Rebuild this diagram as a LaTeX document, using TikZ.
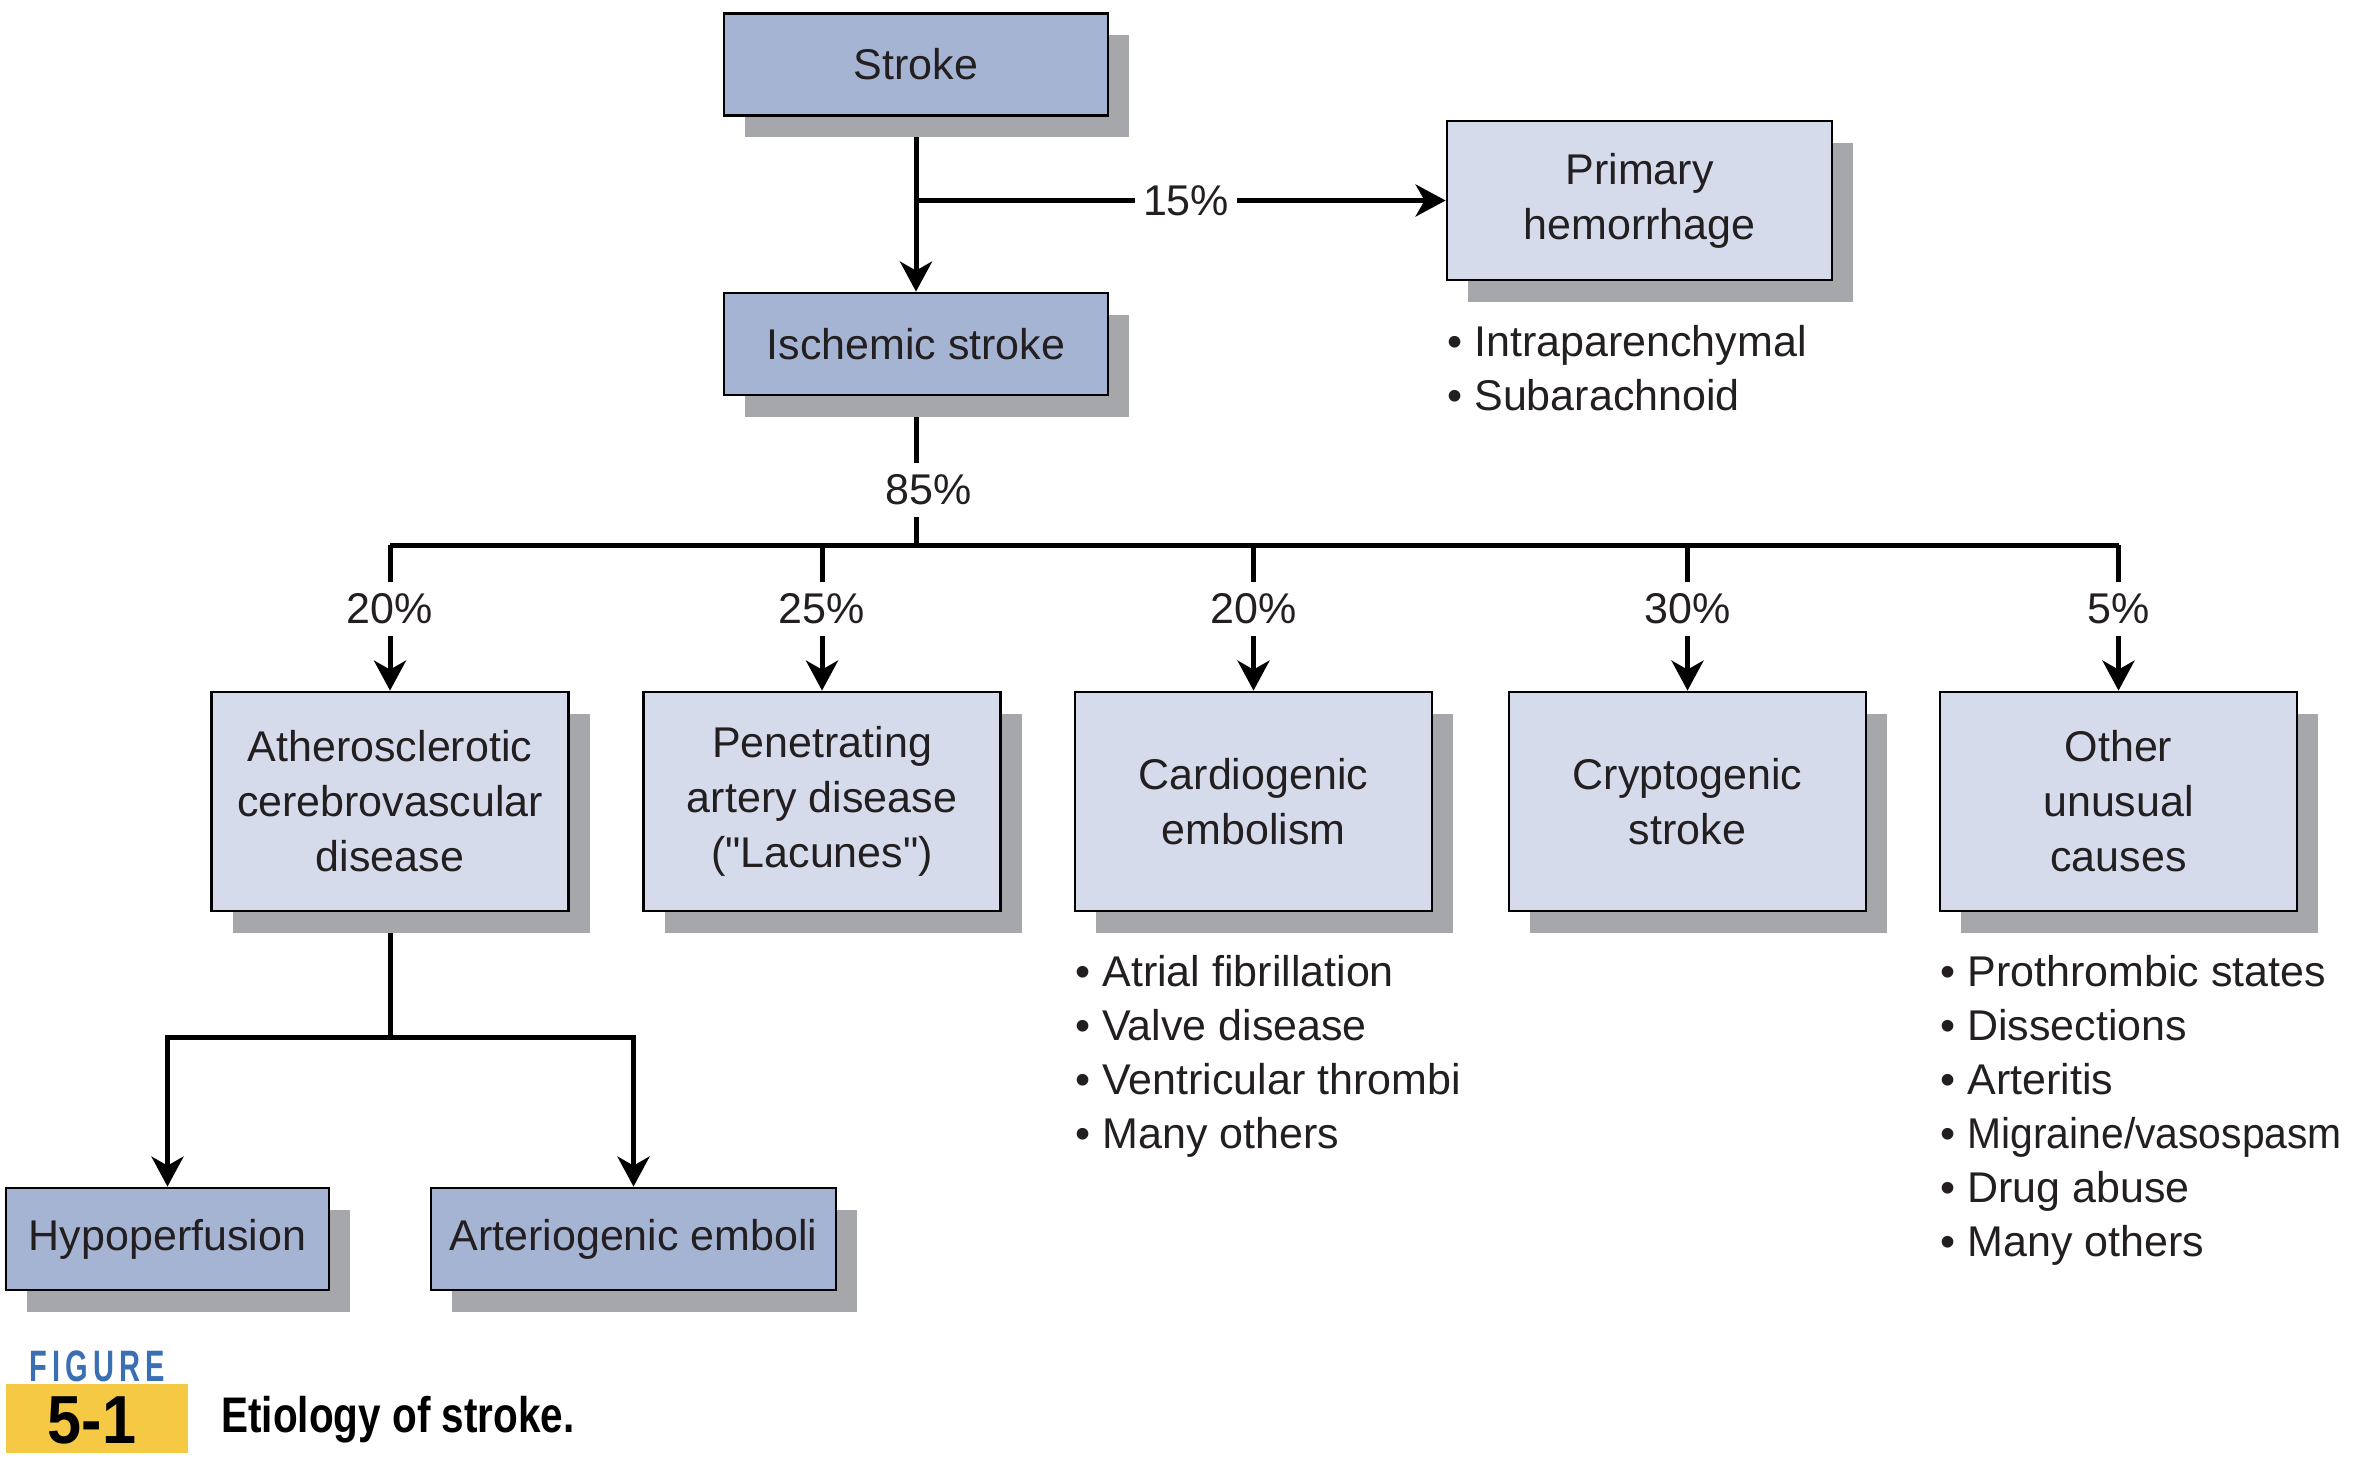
\documentclass[tikz,border=0pt]{standalone}
\usepackage{fontspec}
\setmainfont{Liberation Sans}
\usepackage{graphicx}
\usetikzlibrary{arrows.meta,backgrounds,shadows}
\definecolor{dkbox}{HTML}{A6B4D4}
\definecolor{ltbox}{HTML}{D5DBEB}
\definecolor{shd}{HTML}{A6A7AB}
\definecolor{txt}{HTML}{231F20}
\definecolor{figyel}{HTML}{F6C945}
\definecolor{figblue}{HTML}{3A6FB3}
\begin{document}
\begin{tikzpicture}[x=0.5pt,y=-0.5pt,
  box/.style={draw=black, line width=1.4pt, text=txt, align=center,
    font=\fontsize{21.5}{27.5}\selectfont, inner sep=0pt,
    drop shadow={shadow xshift=10.5pt, shadow yshift=-11pt, fill=shd, opacity=1}},
  darkbox/.style={box, fill=dkbox},
  lightbox/.style={box, fill=ltbox},
  wide/.style={minimum width=192pt, minimum height=51pt},
  child/.style={minimum width=178.5pt, minimum height=109.5pt},
  conn/.style={line width=2.5pt, draw=black},
  arr/.style={conn, -{Stealth[length=15pt, width=16pt, inset=4.5pt]}},
  pct/.style={fill=white, text=txt, font=\fontsize{21.5}{21.5}\selectfont, inner xsep=4pt, inner ysep=6pt},
  bullets/.style={anchor=north west, align=left, inner sep=0pt, text=txt, font=\fontsize{21.5}{27}\selectfont}
]
\useasboundingbox (0,0) rectangle (2354,1460);

% top boxes
\node[darkbox, wide] (st) at (916,64.5) {Stroke};
\node[darkbox, wide] (is) at (916,344) {Ischemic stroke};
\node[lightbox, minimum width=192.5pt, minimum height=79.5pt] (ph) at (1639.5,200.5) {Primary\\hemorrhage};

% middle row
\node[lightbox, child] (c1) at (390,801.5) {Atherosclerotic\\cerebrovascular\\disease};
\node[lightbox, child] (c2) at (822,801.5) {Penetrating\\artery disease\\(\textquotedbl Lacunes\textquotedbl)};
\node[lightbox, child] (c3) at (1253.5,801.5) {Cardiogenic\\embolism};
\node[lightbox, child] (c4) at (1687.5,801.5) {Cryptogenic\\stroke};
\node[lightbox, child] (c5) at (2118.5,801.5) {Other\\unusual\\causes};

% bottom boxes
\node[darkbox, minimum width=161.5pt, minimum height=51pt] (hy) at (167.5,1239) {Hypoperfusion};
\node[darkbox, minimum width=202.5pt, minimum height=51pt] (ar) at (633.5,1239) {Arteriogenic emboli};

% bullet lists
\node[bullets] (phl) at (1447,325) {• Intraparenchymal\\• Subarachnoid};
\node[bullets] (c3l) at (1075,955) {• Atrial fibrillation\\• Valve disease\\• Ventricular thrombi\\• Many others};
\node[bullets] (c5l) at (1940,955) {• Prothrombic states\\• Dissections\\• Arteritis\\• \scalebox{0.95}[1]{Migraine/vasospasm}\\• Drug abuse\\• Many others};

\coordinate (bus) at (916,545);
\coordinate (fk) at (390,1037);

\begin{scope}[on background layer]
  \draw[arr] (st.south) -- (is.north);
  \draw[arr] (st.south |- ph.west) -- node[pct, pos=0.51] {15\%} (ph.west);
  \draw[conn] (is.south) -- node[pct, pos=0.63, xshift=6.5pt] {85\%} (bus);
  \draw[conn] (c1.north |- bus) -- (c5.north |- bus);
  \draw[arr] (c1.north |- bus) -- node[pct, pos=0.44] {20\%} (c1.north);
  \draw[arr] (c2.north |- bus) -- node[pct, pos=0.44] {25\%} (c2.north);
  \draw[arr] (c3.north |- bus) -- node[pct, pos=0.44] {20\%} (c3.north);
  \draw[arr] (c4.north |- bus) -- node[pct, pos=0.44] {30\%} (c4.north);
  \draw[arr] (c5.north |- bus) -- node[pct, pos=0.44] {5\%} (c5.north);
  \draw[conn] (c1.south) -- (fk);
  \draw[conn, {Stealth[length=15pt, width=16pt, inset=4.5pt]}-{Stealth[length=15pt, width=16pt, inset=4.5pt]}]
    (hy.north) -- (hy.north |- fk) -- (ar.north |- fk) -- (ar.north);
\end{scope}

% figure caption
\fill[figyel] (6,1384) rectangle (188,1453);
\node[text=figblue, font=\fontsize{22}{22}\bfseries\selectfont, inner sep=0pt] (figword) at (97,1366)
  {\scalebox{0.66}[1]{\addfontfeature{LetterSpace=18}FIGURE}};
\node[text=black, font=\fontsize{34}{34}\bfseries\selectfont, inner sep=0pt] (fignum) at (92,1420)
  {\scalebox{0.9}[1]{5-1}};
\node[anchor=west, text=black, font=\fontsize{25}{25}\bfseries\selectfont, inner sep=0pt] (figcap) at (221,1420)
  {\scalebox{0.81}[1]{Etiology of stroke.}};
\end{tikzpicture}
\end{document}
